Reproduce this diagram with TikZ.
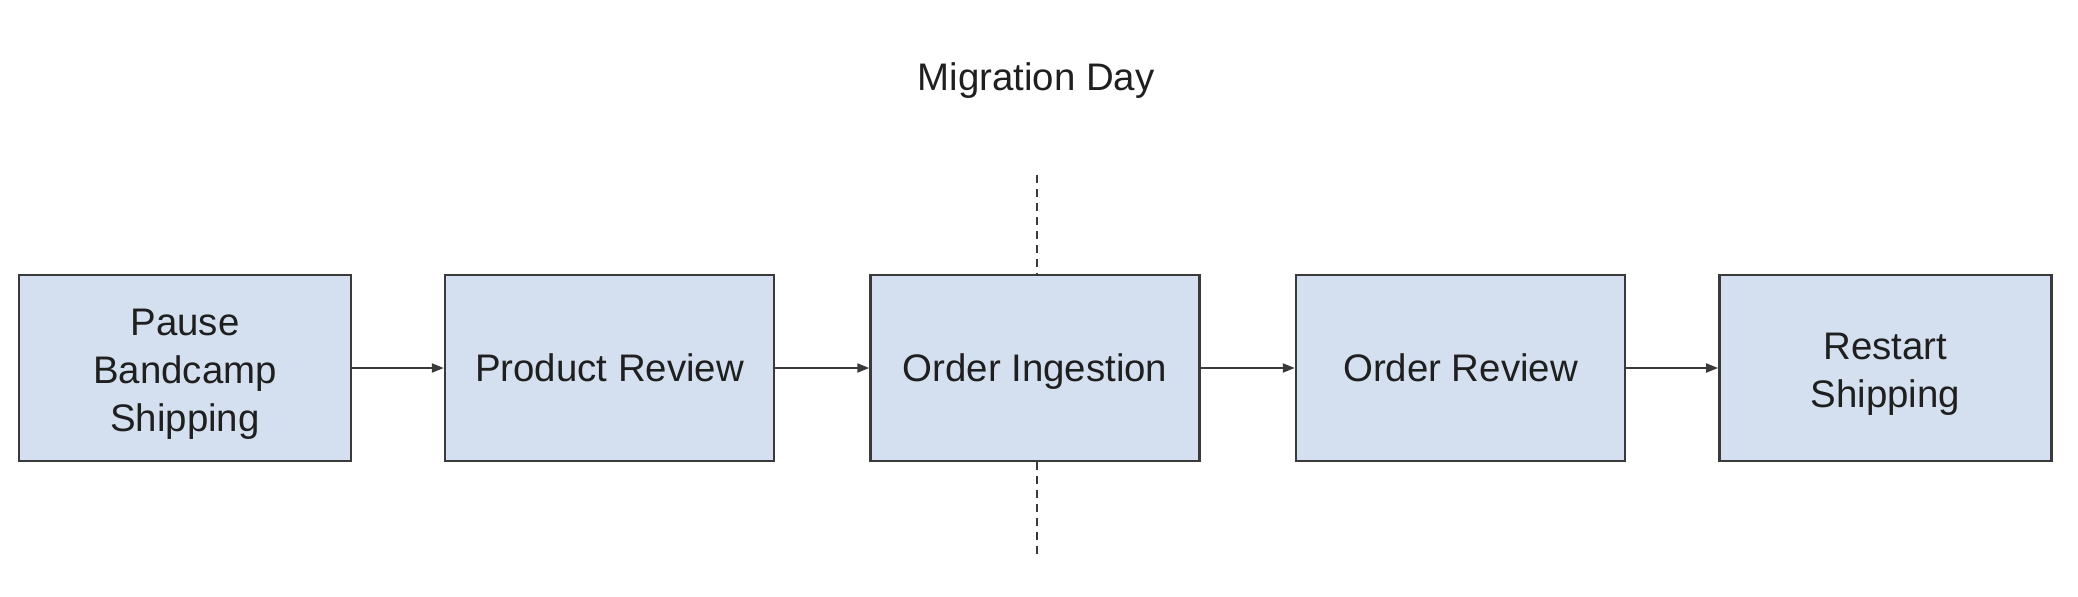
\documentclass[tikz,border=0pt]{standalone}
\usepackage{fontspec}
\setmainfont{Liberation Sans}
\usetikzlibrary{arrows.meta}
\definecolor{boxfill}{HTML}{D4E0EF}
\definecolor{boxline}{HTML}{3A3A3A}
\newcommand{\tallstrut}{\rule{0pt}{19.2pt}}
\tikzset{
  px/.style={x=0.5pt,y=-0.5pt},
  stagebox/.style={draw=boxline,fill=boxfill,line width=1.2pt,minimum height=93pt,
    align=center,font=\fontsize{19.2}{24}\selectfont,text=black!88},
  oneline/.style={stagebox,text height=13.9pt,text depth=0pt},
  flow/.style={draw=boxline,line width=1pt,-{Triangle[length=6pt,width=4.5pt]}},
  divider/.style={draw=boxline,line width=1pt,dash pattern=on 4pt off 3pt},
  titletext/.style={font=\fontsize{19.2}{22}\selectfont,text=black!88}
}
\begin{document}
\begin{tikzpicture}[px]
\useasboundingbox (0,0) rectangle (2078,596);
\node[stagebox,minimum width=166pt] (b1) at (185,368) {\tallstrut Pause\\Bandcamp\\Shipping};
\node[oneline,minimum width=164.5pt] (b2) at (609.5,368) {Product Review};
\node[oneline,minimum width=164.5pt] (b3) at (1035,368) {Order Ingestion};
\node[oneline,minimum width=164.5pt] (b4) at (1460.5,368) {Order Review};
\node[stagebox,minimum width=166pt] (b5) at (1885.3,368) {\tallstrut Restart\\Shipping};
\node[titletext] (t) at (1036,81) {Migration Day};
\coordinate (dtop) at (1036.5,175);
\coordinate (dbot) at (1036.5,559);
\draw[flow] (b1) -- (b2);
\draw[flow] (b2) -- (b3);
\draw[flow] (b3) -- (b4);
\draw[flow] (b4) -- (b5);
\draw[divider] (dtop) -- (dtop |- b3.north);
\draw[divider] (dtop |- b3.south) -- (dbot);
\end{tikzpicture}
\end{document}
